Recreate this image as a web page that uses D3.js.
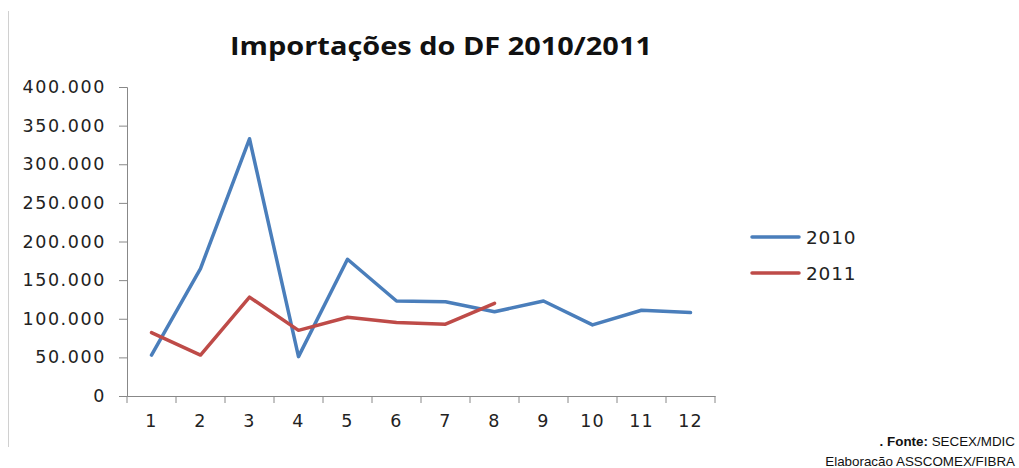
<!DOCTYPE html>
<html>
<head>
<meta charset="utf-8">
<script src="https://cdn.jsdelivr.net/npm/d3@7"></script>
<style>
  body { margin: 0; background: #fff; }
  svg { display: block; }
</style>
</head>
<body>
<script>
// ---- data ----
const months = [1, 2, 3, 4, 5, 6, 7, 8, 9, 10, 11, 12];
const imports2010 = [53000, 165000, 333000, 51000, 177000, 123000, 122000, 109000, 123000, 92000, 111000, 108000];
const imports2011 = [82000, 53000, 128000, 85000, 102000, 95000, 93000, 120000];
const yTicks = [0, 50000, 100000, 150000, 200000, 250000, 300000, 350000, 400000];
const seriesNames = ["2010", "2011"];
const seriesColors = ["#4a7ebb", "#be4b48"];

const WIDTH = 1019, HEIGHT = 468;
const plot = { left: 127, right: 715, top: 87, bottom: 396 };

const svg = d3.select("body").append("svg")
  .attr("width", WIDTH)
  .attr("height", HEIGHT);

// left frame line of the original chart object
svg.append("line")
  .attr("x1", 8.5).attr("x2", 8.5)
  .attr("y1", 11).attr("y2", 447)
  .attr("stroke", "#d0d0d0");

// title
svg.append("text")
  .attr("x", 441).attr("y", 55)
  .attr("text-anchor", "middle")
  .attr("font-family", "'Open Sans', sans-serif")
  .attr("font-weight", "bold")
  .attr("font-size", 25)
  .attr("fill", "#111")
  .attr("textLength", 422)
  .attr("lengthAdjust", "spacingAndGlyphs")
  .text("Importações do DF 2010/2011");

// ---- scales ----
const x = d3.scaleBand().domain(months).range([plot.left, plot.right]);
const y = d3.scaleLinear().domain([0, 400000]).range([plot.bottom, plot.top]);
const fmt = d3.formatLocale({ decimal: ",", thousands: ".", grouping: [3], currency: ["R$", ""] }).format(",d");

const tickFont = "'DejaVu Sans', Verdana, sans-serif";

// ---- Y axis ----
const yAxis = svg.append("g")
  .attr("transform", `translate(${plot.left},0)`)
  .call(d3.axisLeft(y).tickValues(yTicks).tickFormat(fmt).tickSizeOuter(0).tickSize(8).tickPadding(13));
yAxis.select(".domain").attr("stroke", "#888");
yAxis.selectAll(".tick line").attr("stroke", "#888");
yAxis.selectAll("text")
  .attr("font-family", tickFont)
  .attr("font-size", 17.5)
  .attr("letter-spacing", 1.6)
  .attr("fill", "#222");

// ---- X axis ----
const xAxis = svg.append("g")
  .attr("transform", `translate(0,${plot.bottom})`)
  .call(d3.axisBottom(x).tickSize(0).tickPadding(19));
xAxis.select(".domain").attr("stroke", "#888");
xAxis.selectAll(".tick line").remove();
xAxis.selectAll("text")
  .attr("font-family", tickFont)
  .attr("font-size", 17.5)
  .attr("letter-spacing", 1.2)
  .attr("fill", "#222");
// category boundary ticks
xAxis.selectAll(".bound")
  .data(months.concat([null]))
  .join("line")
  .attr("class", "bound")
  .attr("x1", d => d === null ? plot.right : x(d))
  .attr("x2", d => d === null ? plot.right : x(d))
  .attr("y1", 0).attr("y2", 7)
  .attr("stroke", "#888");

// ---- lines ----
const line = d3.line()
  .x((d, i) => x(months[i]) + x.bandwidth() / 2)
  .y(d => y(d));

[imports2010, imports2011].forEach((vals, i) => {
  svg.append("path")
    .datum(vals)
    .attr("fill", "none")
    .attr("stroke", seriesColors[i])
    .attr("stroke-width", 3.5)
    .attr("stroke-linejoin", "round")
    .attr("stroke-linecap", "round")
    .attr("d", line);
});

// ---- legend ----
const legend = svg.append("g");
seriesNames.forEach((name, i) => {
  const ly = 237 + i * 36;
  legend.append("line")
    .attr("x1", 752).attr("x2", 799)
    .attr("y1", ly).attr("y2", ly)
    .attr("stroke", seriesColors[i])
    .attr("stroke-width", 3.5)
    .attr("stroke-linecap", "round");
  legend.append("text")
    .attr("x", 806).attr("y", ly + 7)
    .attr("font-family", tickFont)
    .attr("font-size", 18.5)
    .attr("letter-spacing", 0.8)
    .attr("fill", "#222")
    .text(name);
});

// ---- footer ----
const foot = svg.append("g")
  .attr("font-family", "'Liberation Sans', Arial, sans-serif")
  .attr("font-size", 13.4)
  .attr("fill", "#111")
  .attr("text-anchor", "end");
const f1 = foot.append("text").attr("x", 1015).attr("y", 446);
f1.append("tspan").attr("font-weight", "bold").text(". Fonte: ");
f1.append("tspan").text("SECEX/MDIC");
foot.append("text").attr("x", 1015).attr("y", 466).text("Elaboracão ASSCOMEX/FIBRA");
</script>
</body>
</html>
